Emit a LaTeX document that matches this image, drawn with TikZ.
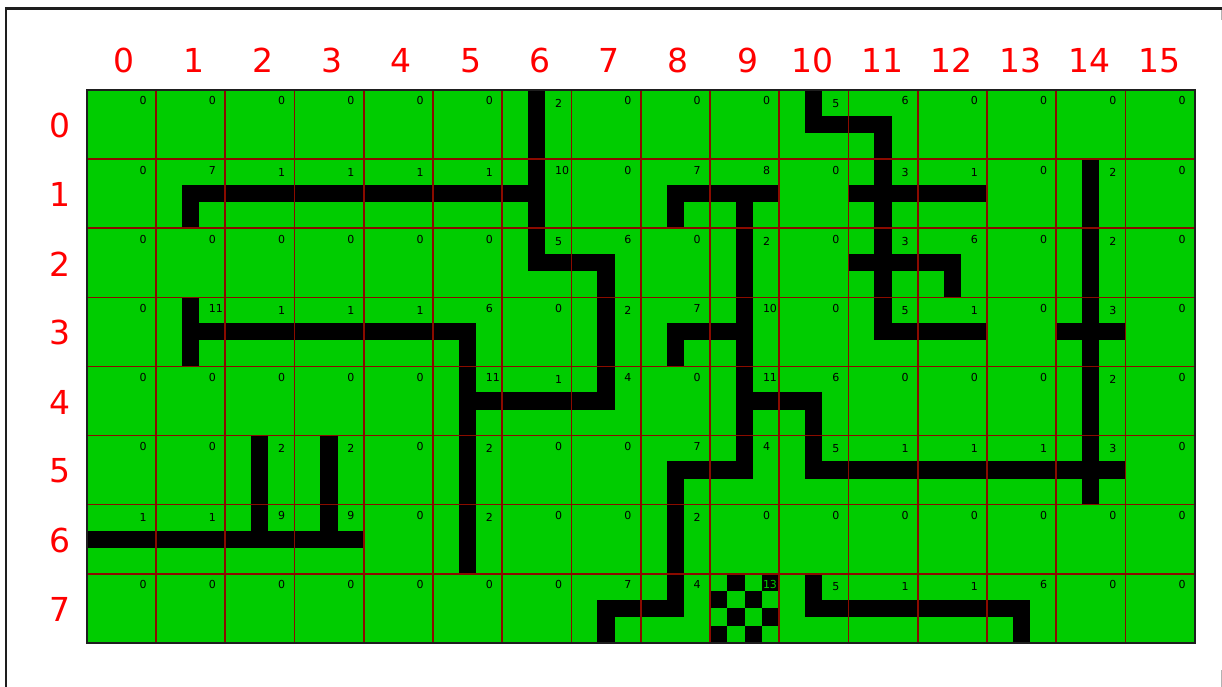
\documentclass[tikz,border=0pt]{standalone}
\usepackage{fontspec}
\setmainfont{DejaVu Sans}
\definecolor{cellgreen}{RGB}{0,204,0}
\definecolor{gridred}{RGB}{139,10,0}
\definecolor{framegray}{RGB}{30,30,30}
\tikzset{
  wall/.style={fill=black},
  gridline/.style={draw=gridred, line width=1.6pt},
  outerline/.style={draw=framegray, line width=2pt},
  frameline/.style={draw=framegray, line width=2.2pt},
  lbl/.style={inner sep=0pt, font=\fontsize{11}{13}\selectfont},
  head/.style={inner sep=0pt, text=red, font=\fontsize{33}{36}\selectfont},
}
\newcommand\armN[2]{\fill[wall] (#1+.375,#2) rectangle (#1+.625,#2+.625);}
\newcommand\armS[2]{\fill[wall] (#1+.375,#2+.375) rectangle (#1+.625,#2+1);}
\newcommand\armW[2]{\fill[wall] (#1,#2+.375) rectangle (#1+.625,#2+.625);}
\newcommand\armE[2]{\fill[wall] (#1+.375,#2+.375) rectangle (#1+1,#2+.625);}
\newcommand\checkercell[2]{\foreach \i/\j in {1/0,3/0,0/1,2/1,1/2,3/2,0/3,2/3}{\fill[wall] (#1+\i*.25,#2+\j*.25) rectangle ++(.25,.25);}}
\newcommand\piece[3]{%
  \ifcase#3\relax
  \or \armW{#1}{#2}\armE{#1}{#2}%
  \or \armN{#1}{#2}\armS{#1}{#2}%
  \or \armN{#1}{#2}\armS{#1}{#2}\armW{#1}{#2}\armE{#1}{#2}%
  \or \armN{#1}{#2}\armW{#1}{#2}%
  \or \armN{#1}{#2}\armE{#1}{#2}%
  \or \armW{#1}{#2}\armS{#1}{#2}%
  \or \armS{#1}{#2}\armE{#1}{#2}%
  \or \armW{#1}{#2}\armE{#1}{#2}\armS{#1}{#2}%
  \or \armW{#1}{#2}\armE{#1}{#2}\armN{#1}{#2}%
  \or \armN{#1}{#2}\armS{#1}{#2}\armW{#1}{#2}%
  \or \armN{#1}{#2}\armS{#1}{#2}\armE{#1}{#2}%
  \or
  \or \checkercell{#1}{#2}%
  \fi}
\def\rowdata{0/{0,0,0,0,0,0,2,0,0,0,5,6,0,0,0,0},
1/{0,7,1,1,1,1,10,0,7,8,0,3,1,0,2,0},
2/{0,0,0,0,0,0,5,6,0,2,0,3,6,0,2,0},
3/{0,11,1,1,1,6,0,2,7,10,0,5,1,0,3,0},
4/{0,0,0,0,0,11,1,4,0,11,6,0,0,0,2,0},
5/{0,0,2,2,0,2,0,0,7,4,5,1,1,1,3,0},
6/{1,1,9,9,0,2,0,0,2,0,0,0,0,0,0,0},
7/{0,0,0,0,0,0,0,7,4,13,5,1,1,6,0,0}}
\begin{document}
\begin{tikzpicture}[x=1pt,y=-1pt]
\useasboundingbox (0,0) rectangle (1222,687);
% outer frame (partly cropped)
\draw[frameline] (6,687) -- (6,8.5) -- (1222,8.5);
\draw[gray!60, line width=0.8pt] (1221.3,10) -- (1221.3,20);
\draw[gray!60, line width=0.8pt] (1221.3,670) -- (1221.3,687);
\begin{scope}[shift={(86.7pt,-90pt)}, x=69.25pt, y=-69.1pt]
  \fill[cellgreen] (0,0) rectangle (16,8);
  \foreach \r/\row in \rowdata {
    \foreach \k [count=\c from 0] in \row {\piece{\c}{\r}{\k}}
  }
  \foreach \c in {1,...,15} \draw[gridline] (\c,0) -- (\c,8);
  \foreach \r in {1,...,7} \draw[gridline] (0,\r) -- (16,\r);
  \draw[outerline] (0,0) rectangle (16,8);
  \foreach \r/\row in \rowdata {
    \foreach \k [count=\c from 0] in \row {
      \pgfmathsetmacro\dy{((\k==1)||(\k==2)||(\k==3)||(\k==5)) ? 0.25 : 0.217}
      \ifnum\k=13 \def\lc{cellgreen}\else\def\lc{black}\fi
      \node[lbl, text=\lc, anchor=base west] (l-\c-\r) at (\c+0.763,\r+\dy) {\k};
    }
  }
  \foreach \c in {0,...,15} {
    \pgfmathsetmacro\dx{(\c<10) ? 0.045 : -0.015}
    \node[head] (col-\c) at (\c+0.5+\dx,-0.427) {\c};
  }
  \foreach \r in {0,...,7} {
    \node[head] (row-\r) at (-0.386,\r+0.515) {\r};
  }
\end{scope}
\end{tikzpicture}
\end{document}
